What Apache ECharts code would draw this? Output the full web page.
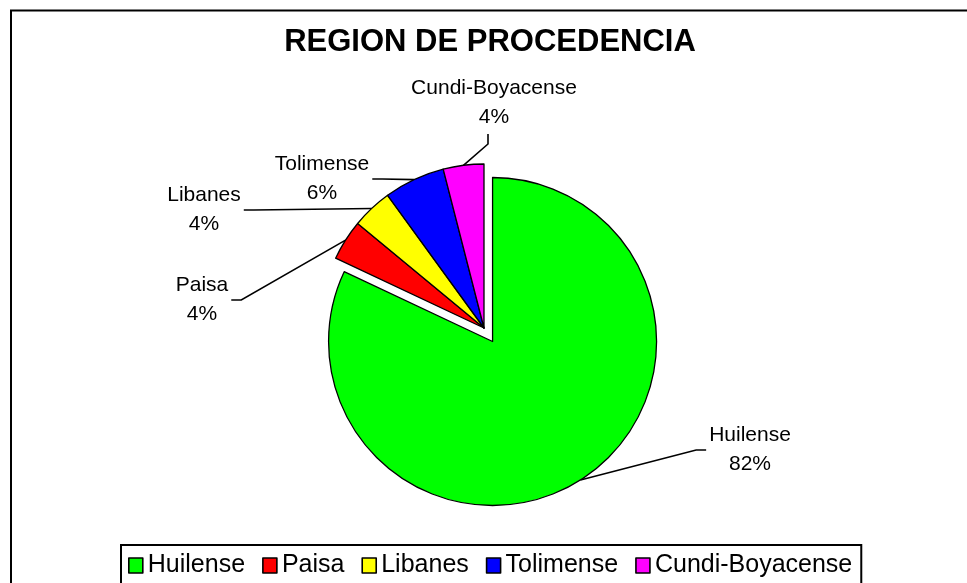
<!DOCTYPE html>
<html>
<head>
<meta charset="utf-8">
<script src="https://cdn.jsdelivr.net/npm/echarts@6/dist/echarts.min.js"></script>
<style>
html,body{margin:0;padding:0;background:#fff;}
#chart{width:967px;height:583px;}
</style>
</head>
<body>
<div id="chart"></div>
<script>
// ---- data ----
const categories = ['Huilense', 'Paisa', 'Libanes', 'Tolimense', 'Cundi-Boyacense'];
const values = [82, 4, 4, 6, 4];
const colors = ['#00FF00', '#FF0000', '#FFFF00', '#0000FF', '#FF00FF'];
const titleText = 'REGION DE PROCEDENCIA';
const explodedIndex = 0;

// ---- layout (not data) ----
const CX = 484, CY = 328, R = 164, OFF = 16;
const labelOffset = [[266, 122], [-282, -28], [-280, -118], [-162, -149], [10, -225]];
const labelSide = ['left', 'right', 'right', 'right', 'bottom'];
const FONT = "'Liberation Sans', Arial, sans-serif";
const TRANSPARENT = 'rgba(0,0,0,0)';

const total = values.reduce((a, b) => a + b, 0);
const midAngles = [];
let cum = 0;
values.forEach(v => { midAngles.push((cum + v / 2) / total * 2 * Math.PI); cum += v; });

// centre of the exploded slice, moved along its mid angle
const EX = CX + OFF * Math.sin(midAngles[explodedIndex]);
const EY = CY - OFF * Math.cos(midAngles[explodedIndex]);

function labelLayout(params) {
  const i = params.dataIndex;
  const a = midAngles[i];
  const cx = i === explodedIndex ? EX : CX;
  const cy = i === explodedIndex ? EY : CY;
  const ax = cx + R * Math.sin(a);
  const ay = cy - R * Math.cos(a);
  const lx = CX + labelOffset[i][0];
  const ly = CY + labelOffset[i][1];
  const w = params.labelRect.width, h = params.labelRect.height;
  let end, bend;
  if (labelSide[i] === 'left') {
    end = [lx - w / 2 - 3, ly]; bend = [end[0] - 10, ly];
  } else if (labelSide[i] === 'right') {
    end = [lx + w / 2 + 3, ly]; bend = [end[0] + 10, ly];
  } else {
    end = [lx - 6, ly + h / 2 + 2]; bend = [end[0], end[1] + 10];
  }
  return {
    x: lx, y: ly, align: 'center', verticalAlign: 'middle',
    labelLinePoints: [[ax, ay], bend, end]
  };
}

const labelOpt = {
  show: true,
  position: 'outside',
  formatter: '{b}\n{d}%',
  fontFamily: FONT,
  fontSize: 21,
  lineHeight: 29,
  color: '#000',
  align: 'center'
};
const labelLineOpt = { show: true, length: 20, length2: 10, lineStyle: { color: '#000', width: 1.6 } };

function makeData(visibleFn) {
  return categories.map((name, i) => {
    const vis = visibleFn(i);
    return {
      name: name,
      value: values[i],
      itemStyle: vis ? { color: colors[i], borderColor: '#000', borderWidth: 1.3 }
                     : { color: TRANSPARENT, borderWidth: 0 },
      label: { show: vis },
      labelLine: { show: vis }
    };
  });
}

const chart = echarts.init(document.getElementById('chart'), null, { renderer: 'canvas' });

const baseSeries = {
  type: 'pie',
  radius: R,
  startAngle: 90,
  clockwise: true,
  avoidLabelOverlap: false,
  percentPrecision: 0,
  silent: true,
  emphasis: { disabled: true },
  label: labelOpt,
  labelLine: labelLineOpt,
  labelLayout: labelLayout
};

const option = {
  animation: false,
  backgroundColor: '#fff',
  title: {
    text: titleText,
    left: 490,
    top: 27,
    padding: 0,
    textAlign: 'center',
    textStyle: { fontFamily: FONT, fontSize: 31, fontWeight: 'bold', color: '#000' }
  },
  legend: {
    data: categories.map((name, i) => ({
      name: name,
      itemStyle: { color: colors[i], borderColor: '#000', borderWidth: 1.6 }
    })),
    left: 121,
    top: 545,
    orient: 'horizontal',
    borderColor: '#000',
    borderWidth: 2,
    padding: [8, 9, 8, 7],
    itemWidth: 14,
    itemHeight: 15,
    itemGap: 17,
    icon: 'rect',
    selectedMode: false,
    textStyle: { fontFamily: FONT, fontSize: 25, color: '#000' }
  },
  graphic: [{
    type: 'rect',
    shape: { x: 11, y: 10.5, width: 1000, height: 600 },
    style: { fill: 'none', stroke: '#000', lineWidth: 2 },
    silent: true
  }],
  series: [
    Object.assign({}, baseSeries, {
      name: 'rest',
      center: [CX, CY],
      data: makeData(i => i !== explodedIndex)
    }),
    Object.assign({}, baseSeries, {
      name: 'exploded',
      center: [EX, EY],
      data: makeData(i => i === explodedIndex)
    })
  ]
};
chart.setOption(option);
</script>
</body>
</html>
